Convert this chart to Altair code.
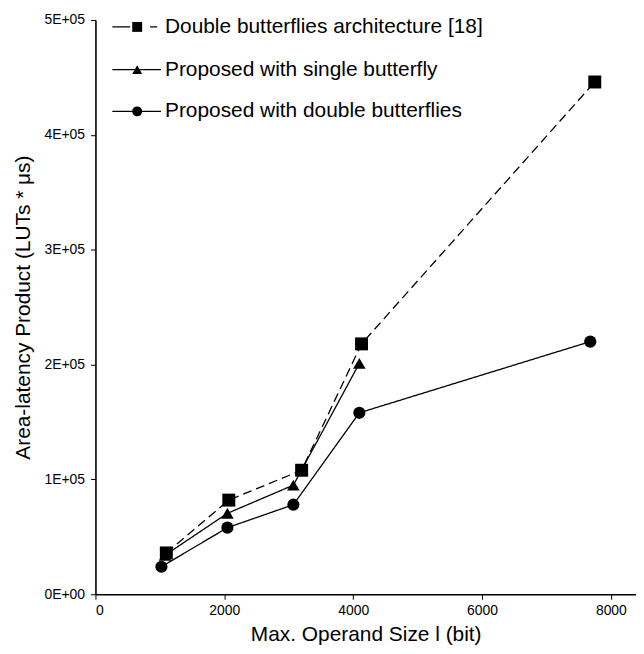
import altair as alt
import pandas as pd

series_names = [
    "Double butterflies architecture [18]",
    "Proposed with single butterfly",
    "Proposed with double butterflies",
]
x_ref = [1100, 2070, 3200, 4130, 7750]
y_ref = [36000, 82000, 108000, 218000, 446000]
x_single = [1080, 2048, 3072, 4096]
y_single = [34000, 70500, 95000, 201000]
x_double = [1024, 2048, 3072, 4096, 7680]
y_double = [24000, 58000, 78000, 158000, 220000]

x_ticks = [0, 2000, 4000, 6000, 8000]
y_ticks = [0, 100000, 200000, 300000, 400000, 500000]

rows = []
for s, xs, ys in zip(series_names, [x_ref, x_single, x_double], [y_ref, y_single, y_double]):
    for xv, yv in zip(xs, ys):
        rows.append({"series": s, "x": xv, "y": yv})
df = pd.DataFrame(rows)

FONT = "Liberation Sans"
shapes = ["square", "triangle-up", "circle"]
sizes = [170, 150, 150]
dashes = [[9, 5], [1, 0], [1, 0]]
legend_dashes = [[18, 20, 7, 10], [1, 0], [1, 0]]

xs = alt.Scale(domain=[0, 8390], nice=False)
ys = alt.Scale(domain=[0, 500000], nice=False)

x_enc = alt.X(
    "x:Q", scale=xs,
    axis=alt.Axis(values=x_ticks, format="d", title="Max. Operand Size l (bit)", titlePadding=7,
                  labelPadding=4),
)
y_enc = alt.Y(
    "y:Q", scale=ys,
    axis=alt.Axis(values=y_ticks, title="Area-latency Product (LUTs * μs)", titlePadding=10,
                  labelPadding=6,
                  labelExpr="datum.value == 0 ? '0E+00' : format(datum.value/100000, 'd') + 'E+05'"),
)

lines = alt.Chart(df).mark_line(color="black", strokeWidth=1.3).encode(
    x=x_enc, y=y_enc,
    detail="series:N",
    strokeDash=alt.StrokeDash("series:N", scale=alt.Scale(domain=series_names, range=dashes), legend=None),
)

points = alt.Chart(df).mark_point(filled=True, color="black", opacity=1).encode(
    x=alt.X("x:Q", scale=xs), y=alt.Y("y:Q", scale=ys),
    shape=alt.Shape("series:N", scale=alt.Scale(domain=series_names, range=shapes), legend=None),
    size=alt.Size("series:N", scale=alt.Scale(domain=series_names, range=sizes), legend=None),
    order=alt.Order("series:N", sort="descending"),
)

# manual legend (pixel layout inside plot area)
leg_layers = []
leg_y = [7, 50, 92]
for i, name in enumerate(series_names):
    yy = leg_y[i]
    leg_layers.append(
        alt.Chart(pd.DataFrame({"s": [name]})).mark_rule(
            color="black", strokeWidth=1.3, strokeDash=legend_dashes[i]
        ).encode(x=alt.value(17), x2=alt.value(66), y=alt.value(yy))
    )
    leg_layers.append(
        alt.Chart(pd.DataFrame({"s": [name]})).mark_point(
            filled=True, color="black", opacity=1, shape=shapes[i], size=100
        ).encode(x=alt.value(42), y=alt.value(yy))
    )
    leg_layers.append(
        alt.Chart(pd.DataFrame({"s": [name]})).mark_text(
            align="left", baseline="middle", font=FONT, fontSize=21, color="black"
        ).encode(x=alt.value(70), y=alt.value(yy), text="s:N")
    )

chart = alt.layer(lines, points, *leg_layers).properties(
    width=544, height=578,
    autosize=alt.AutoSizeParams(type="none"),
    padding={"left": 88, "top": 10, "right": 0, "bottom": 50},
).configure_view(stroke=None).configure_axis(
    grid=False, domainColor="black", domainWidth=1.6, tickColor="black", tickWidth=1,
    tickSize=5, labelFont=FONT, labelFontSize=14, labelColor="black",
    titleFont=FONT, titleFontSize=21, titleFontWeight="normal", titleColor="black",
)

chart.save("out.html", embed_options={"renderer": "svg", "actions": False})
